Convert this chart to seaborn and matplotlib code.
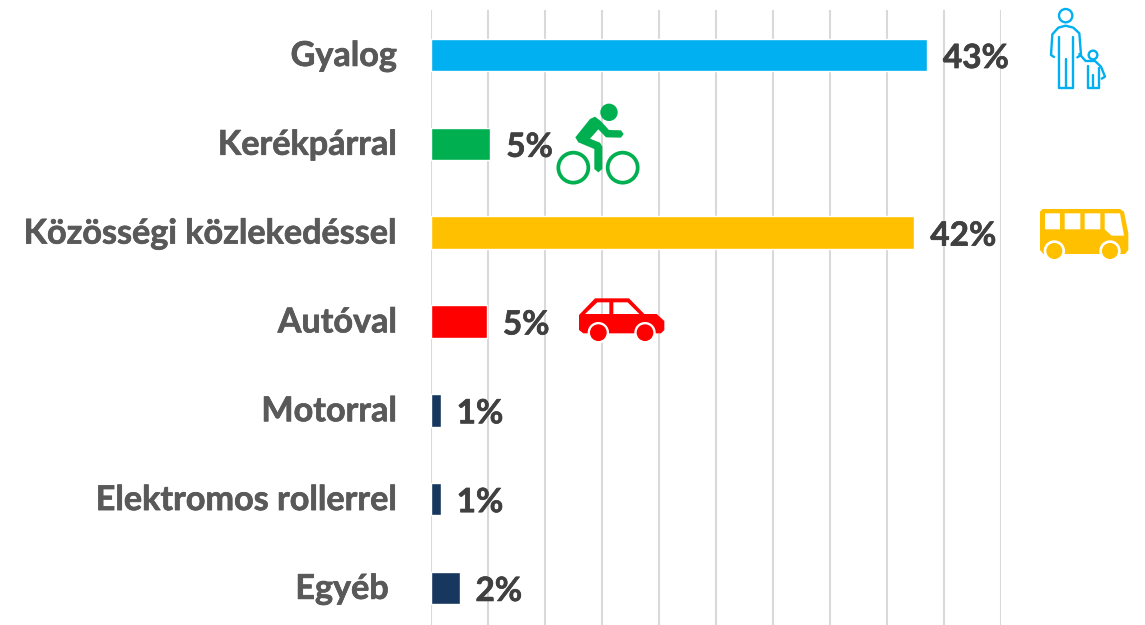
import matplotlib
matplotlib.use('Agg')
import matplotlib.pyplot as plt
from matplotlib.patches import Circle, PathPatch
from matplotlib.path import Path
from matplotlib.transforms import ScaledTranslation
import matplotlib.patheffects as pe
import seaborn as sns
import pandas as pd

categories = ['Gyalog', 'Kerékpárral', 'Közösségi közlekedéssel', 'Autóval',
              'Motorral', 'Elektromos rollerrel', 'Egyéb ']
values = [43.5, 5.2, 42.4, 4.9, 0.85, 0.85, 2.5]
value_labels = ['43%', '5%', '42%', '5%', '1%', '1%', '2%']
bar_colors = ['#00b0f0', '#00b050', '#ffc000', '#ff0000', '#17375e', '#17375e', '#17375e']

W, H = 1145, 625

sns.set_theme(style='white')
plt.rcParams['font.family'] = ['Lato', 'DejaVu Sans']

fig = plt.figure(figsize=(W / 100, H / 100), dpi=100)
ax = fig.add_axes([431 / W, 0, 570 / W, 615 / H])

df = pd.DataFrame({'cat': categories, 'val': values})
sns.barplot(data=df, y='cat', x='val', hue='cat', palette=bar_colors, legend=False,
            width=0.365, saturation=1, ax=ax, zorder=3)

ax.set_xlim(0, 50)
ax.set_ylim(6.417, -0.507)
ax.set_xticks(range(0, 51, 5))
ax.xaxis.grid(True, color='#d9d9d9', linewidth=1.5)
ax.set_axisbelow(True)
ax.yaxis.grid(False)
sns.despine(ax=ax, left=True, bottom=True)
ax.set_xlabel('')
ax.set_ylabel('')
ax.tick_params(axis='x', length=0, labelbottom=False)
ax.tick_params(axis='y', length=0, pad=24.5)
nudge = ScaledTranslation(0, 1.5 / 72, fig.dpi_scale_trans)
for lab in ax.get_yticklabels():
    lab.set_fontsize(24.6)
    lab.set_fontweight('bold')
    lab.set_color('#595959')
    lab.set_path_effects([pe.withStroke(linewidth=0.5, foreground='#595959')])
    lab.set_transform(lab.get_transform() + nudge)

for i, (v, s) in enumerate(zip(values, value_labels)):
    t = ax.annotate(s, (v, i), xytext=(11.5, -2.5), textcoords='offset points', ha='left',
                    va='center', fontsize=24, fontweight='bold', color='#404040', zorder=5)
    t.set_path_effects([pe.withStroke(linewidth=0.5, foreground='#404040')])

# overlay in pixel coordinates for the pictograms
ov = fig.add_axes([0, 0, 1, 1], facecolor='none')
ov.set_xlim(0, W)
ov.set_ylim(H, 0)
ov.axis('off')


def pts(coords, ox, oy):
    return [(ox + x / 3, oy + y / 3) for x, y in coords]


def line(coords, ox, oy, color, lw):
    xs, ys = zip(*pts(coords, ox, oy))
    ov.plot(xs, ys, color=color, lw=lw, solid_capstyle='round', solid_joinstyle='round', zorder=6)


def dot(x, y, r, ox, oy, **kw):
    ov.add_patch(Circle((ox + x / 3, oy + y / 3), r / 3, zorder=kw.pop('zorder', 6), **kw))


def shape(outline, holes, ox, oy, color):
    verts, codes = [], []
    for ring in [outline] + [h[::-1] for h in holes]:
        p = pts(ring, ox, oy)
        verts += p + [p[0]]
        codes += [Path.MOVETO] + [Path.LINETO] * (len(p) - 1) + [Path.CLOSEPOLY]
    ov.add_patch(PathPatch(Path(verts, codes), facecolor=color, edgecolor='none', zorder=6))


# adult and child
blue = '#00b0f0'
ox, oy = 1020, 0
dot(137, 47, 20, ox, oy, fill=False, edgecolor=blue, lw=1.7)
line([(102, 171), (93, 165), (97, 103), (115, 83), (137, 77), (160, 83), (178, 100), (183, 165),
      (172, 172)], ox, oy, blue, 1.7)
line([(116, 110), (116, 264), (160, 264), (160, 110)], ox, oy, blue, 1.7)
line([(138, 178), (138, 264)], ox, oy, blue, 1.7)
dot(219, 165, 13, ox, oy, fill=False, edgecolor=blue, lw=1.7)
line([(178, 162), (197, 183), (225, 183), (243, 200), (255, 230), (245, 236)], ox, oy, blue, 1.7)
line([(205, 197), (205, 264), (238, 264), (238, 205)], ox, oy, blue, 1.7)
line([(220, 225), (220, 264)], ox, oy, blue, 1.7)

# cyclist
green = '#00b050'
ox, oy = 540, 95
dot(207, 52, 24, ox, oy, color=green)
shape([(150, 72), (165, 65), (182, 78), (207, 105), (243, 106), (251, 117), (243, 128), (198, 127),
       (175, 103), (150, 131), (180, 143), (187, 155), (187, 222), (175, 232), (163, 222), (163, 162),
       (115, 142), (106, 127)], [], ox, oy, green)
dot(100, 218, 45, ox, oy, fill=False, edgecolor=green, lw=2.7)
dot(248, 218, 45, ox, oy, fill=False, edgecolor=green, lw=2.7)

# bus
yellow = '#ffc000'
ox, oy = 1020, 195
shape([(68, 42), (300, 42), (312, 50), (325, 115), (325, 165), (315, 177), (70, 177), (60, 165), (60, 50)],
      [[(75, 55), (120, 55), (120, 103), (75, 103)],
       [(134, 55), (181, 55), (181, 103), (134, 103)],
       [(194, 55), (241, 55), (241, 103), (194, 103)],
       [(254, 55), (300, 55), (312, 122), (275, 122), (254, 103)]], ox, oy, yellow)
for x in (103, 270):
    dot(x, 168, 30, ox, oy, color='white', zorder=7)
    dot(x, 168, 22, ox, oy, color=yellow, zorder=8)

# car
red = '#ff0000'
ox, oy = 560, 285
shape([(57, 90), (105, 40), (207, 40), (253, 87), (290, 87), (313, 108), (313, 135), (303, 145),
      (70, 145), (57, 135)],
      [[(75, 87), (112, 52), (148, 52), (148, 87)],
       [(160, 52), (203, 52), (238, 87), (160, 87)]], ox, oy, red)
for x in (115, 255):
    dot(x, 143, 30, ox, oy, color='white', zorder=7)
    dot(x, 143, 23, ox, oy, color=red, zorder=8)

fig.savefig('out.png', dpi=100)
plt.close(fig)
